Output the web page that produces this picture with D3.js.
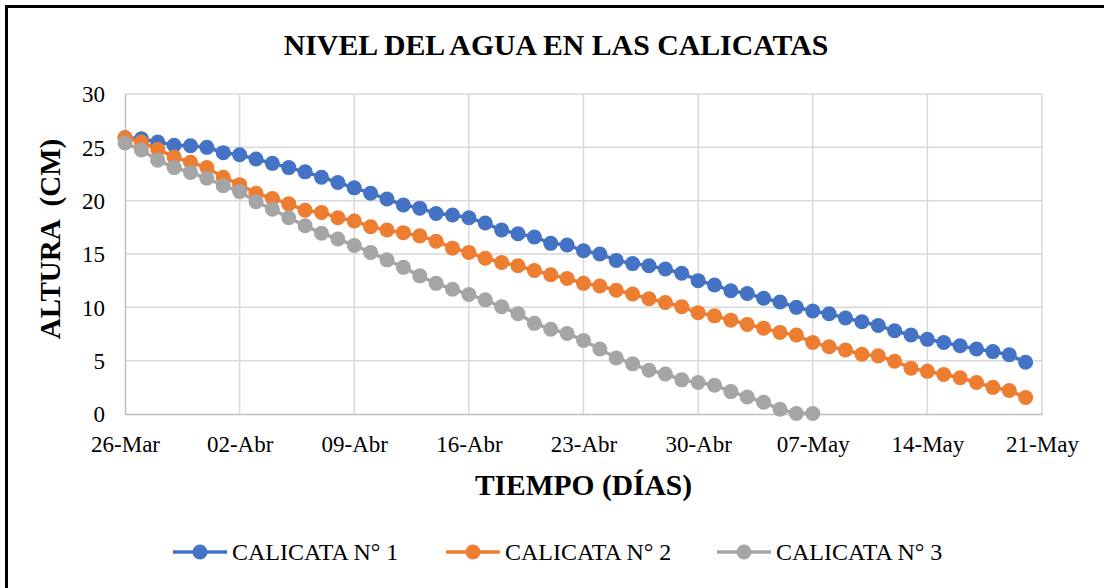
<!DOCTYPE html>
<html>
<head>
<meta charset="utf-8">
<script src="https://d3js.org/d3.v7.min.js"></script>
<style>
  body { margin: 0; background: #fff; }
  text { font-family: "Liberation Serif", "Times New Roman", "DejaVu Serif", serif; fill: #000; }
</style>
</head>
<body>
<svg id="chart"></svg>
<script>
const title = "NIVEL DEL AGUA EN LAS CALICATAS";
const yTitle = "ALTURA  (CM)";
const xTitle = "TIEMPO (DÍAS)";
const seriesNames = ["CALICATA N° 1", "CALICATA N° 2", "CALICATA N° 3"];
const colors = ["#4472C4", "#ED7D31", "#A5A5A5"];
const serif = "'Liberation Serif', 'Times New Roman', 'DejaVu Serif', serif";

// one reading per day, starting 26-Mar
const startDate = new Date(Date.UTC(2023, 2, 26));
const calicata1 = [25.9, 25.8, 25.5, 25.2, 25.15, 25.0, 24.5, 24.3, 23.9, 23.5,
  23.1, 22.7, 22.2, 21.7, 21.2, 20.7, 20.15, 19.6, 19.3, 18.8,
  18.65, 18.4, 17.9, 17.25, 16.9, 16.6, 16.0, 15.85, 15.3, 15.0,
  14.4, 14.1, 13.9, 13.6, 13.2, 12.5, 12.1, 11.55, 11.3, 10.85,
  10.5, 10.0, 9.65, 9.4, 9.0, 8.65, 8.3, 7.8, 7.4, 7.0,
  6.7, 6.4, 6.1, 5.85, 5.55, 4.85];
const calicata2 = [25.9, 25.5, 24.8, 24.1, 23.6, 23.1, 22.2, 21.5, 20.7, 20.2,
  19.7, 19.1, 18.9, 18.4, 18.1, 17.55, 17.25, 17.0, 16.7, 16.2,
  15.55, 15.15, 14.6, 14.2, 13.9, 13.45, 13.05, 12.7, 12.25, 12.0,
  11.6, 11.25, 10.8, 10.45, 10.05, 9.5, 9.2, 8.8, 8.4, 8.05,
  7.65, 7.4, 6.7, 6.3, 6.0, 5.6, 5.45, 4.95, 4.3, 4.0,
  3.7, 3.4, 2.95, 2.5, 2.2, 1.55];
const calicata3 = [25.4, 24.75, 23.8, 23.1, 22.65, 22.1, 21.4, 20.85, 19.9, 19.2,
  18.4, 17.65, 16.95, 16.4, 15.8, 15.15, 14.45, 13.75, 12.95, 12.25,
  11.7, 11.2, 10.7, 10.05, 9.4, 8.5, 7.95, 7.55, 6.9, 6.1,
  5.25, 4.7, 4.1, 3.75, 3.2, 2.95, 2.7, 2.1, 1.6, 1.1,
  0.45, 0.05, 0.05];
const xTickLabels = ["26-Mar", "02-Abr", "09-Abr", "16-Abr", "23-Abr", "30-Abr", "07-May", "14-May", "21-May"];
const yTicks = [0, 5, 10, 15, 20, 25, 30];

const width = 1104;
const height = 588;
const margin = { top: 94, left: 125, bottom: 174, right: 62 };

const series = [calicata1, calicata2, calicata3].map((vals, i) => ({
  name: seriesNames[i],
  color: colors[i],
  points: vals.map((v, j) => ({ date: d3.utcDay.offset(startDate, j), value: v }))
}));

const tickDates = xTickLabels.map((d, i) => d3.utcDay.offset(startDate, i * 7));

//set up svg
const svg = d3.select("#chart")
  .attr("width", width)
  .attr("height", height);

//chart frame
svg.append("rect")
  .attr("x", 6.5)
  .attr("y", 6.5)
  .attr("width", width + 20)
  .attr("height", height + 20)
  .attr("fill", "none")
  .attr("stroke", "#000")
  .attr("stroke-width", 3);

//scales
const xScale = d3.scaleUtc()
  .domain([tickDates[0], tickDates[tickDates.length - 1]])
  .range([margin.left, width - margin.right]);

const yScale = d3.scaleLinear()
  .domain([0, 30])
  .range([height - margin.bottom, margin.top]);

//grid
svg.append("g")
  .selectAll("line")
  .data(yTicks.slice(1))
  .join("line")
    .attr("x1", xScale.range()[0])
    .attr("x2", xScale.range()[1])
    .attr("y1", d => yScale(d))
    .attr("y2", d => yScale(d))
    .attr("stroke", "#d9d9d9")
    .attr("stroke-width", 1.5);

svg.append("g")
  .selectAll("line")
  .data(tickDates.slice(1))
  .join("line")
    .attr("x1", d => xScale(d))
    .attr("x2", d => xScale(d))
    .attr("y1", yScale(0))
    .attr("y2", yScale(30))
    .attr("stroke", "#d9d9d9")
    .attr("stroke-width", 1.5);

//axes
const xAxis = d3.axisBottom(xScale)
  .tickValues(tickDates)
  .tickSize(0)
  .tickPadding(22)
  .tickFormat((d, i) => xTickLabels[i]);

const yAxis = d3.axisLeft(yScale)
  .tickValues(yTicks)
  .tickSize(0)
  .tickPadding(20);

const gx = svg.append("g")
  .attr("transform", `translate(0,${yScale(0)})`)
  .call(xAxis)
  .attr("font-family", serif);
gx.select(".domain").attr("stroke", "#bfbfbf").attr("stroke-width", 1.5);
gx.selectAll("text")
  .style("font-size", "23px")
  .style("font-family", serif);

const gy = svg.append("g")
  .attr("transform", `translate(${margin.left},0)`)
  .call(yAxis)
  .attr("font-family", serif);
gy.select(".domain").attr("stroke", "#bfbfbf").attr("stroke-width", 1.5);
gy.selectAll("text")
  .attr("dy", "0.34em")
  .style("font-size", "23px")
  .style("font-family", serif);

//lines and markers
const line = d3.line()
  .x(d => xScale(d.date))
  .y(d => yScale(d.value));

series.forEach(s => {
  const g = svg.append("g");
  g.append("path")
    .datum(s.points)
    .attr("d", line)
    .attr("fill", "none")
    .attr("stroke", s.color)
    .attr("stroke-width", 3.5);
  g.selectAll("circle")
    .data(s.points)
    .join("circle")
      .attr("cx", d => xScale(d.date))
      .attr("cy", d => yScale(d.value))
      .attr("r", 7.5)
      .attr("fill", s.color);
});

//titles
svg.append("text")
  .attr("x", 556)
  .attr("y", 55)
  .attr("text-anchor", "middle")
  .style("font-family", serif)
  .style("font-size", "29.8px")
  .style("font-weight", "700")
  .text(title);

svg.append("text")
  .attr("transform", "translate(60,239) rotate(-90)")
  .attr("text-anchor", "middle")
  .style("font-family", serif)
  .style("font-size", "29px")
  .style("font-weight", "700")
  .style("white-space", "pre")
  .text(yTitle);

svg.append("text")
  .attr("x", (xScale.range()[0] + xScale.range()[1]) / 2)
  .attr("y", 495)
  .attr("text-anchor", "middle")
  .style("font-family", serif)
  .style("font-size", "29.5px")
  .style("font-weight", "700")
  .text(xTitle);

//legend
const legendX = [173, 446, 717];
const legend = svg.append("g");
series.forEach((s, i) => {
  const lg = legend.append("g").attr("transform", `translate(${legendX[i]},552)`);
  lg.append("line")
    .attr("x1", 0)
    .attr("x2", 54)
    .attr("stroke", s.color)
    .attr("stroke-width", 3.5);
  lg.append("circle")
    .attr("cx", 27)
    .attr("r", 7.5)
    .attr("fill", s.color);
  lg.append("text")
    .attr("x", 59)
    .attr("dy", "0.34em")
    .style("font-family", serif)
    .style("font-size", "24px")
    .text(s.name);
});
</script>
</body>
</html>
